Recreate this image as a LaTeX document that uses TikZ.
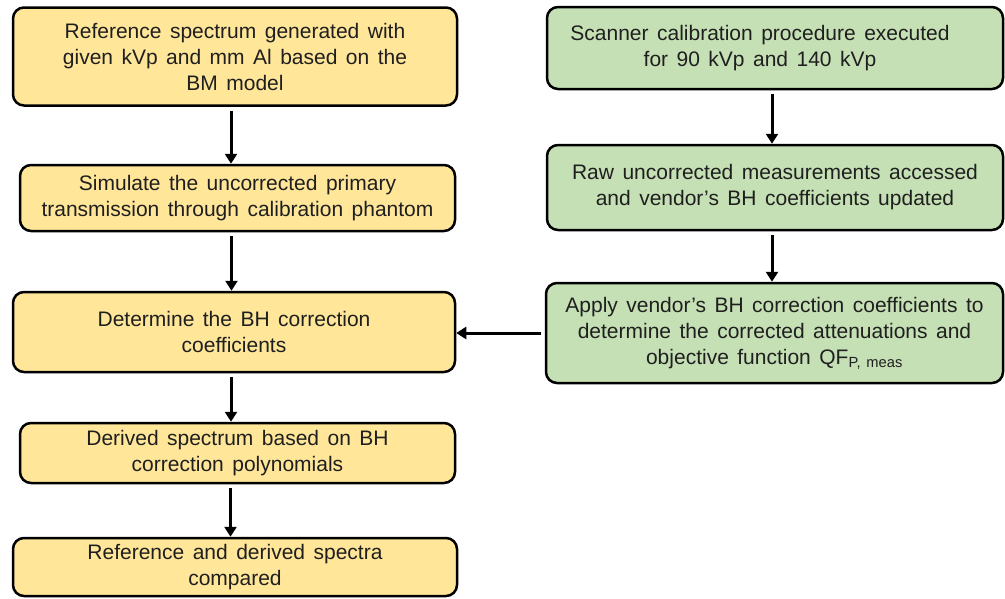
\documentclass[tikz,border=0pt]{standalone}
\usepackage{fontspec}
\setmainfont{Liberation Sans}[WordSpace=1.45]
\usepackage{tikz}
\usetikzlibrary{arrows.meta}

\definecolor{boxyellow}{HTML}{FFE699}
\definecolor{boxgreen}{HTML}{C5E0B4}

\begin{document}
\begin{tikzpicture}[x=1pt, y=-1pt,
    box/.style={draw=black, line width=2.5pt, rounded corners=11pt,
        align=center, inner sep=0pt, text=black!88,
        font=\fontsize{21}{26}\selectfont},
    yellowbox/.style={box, fill=boxyellow},
    greenbox/.style={box, fill=boxgreen},
    flow/.style={line width=3pt, shorten <=4pt,
        -{Triangle[width=12pt, length=10pt]}}]
    \useasboundingbox (0,0) rectangle (1005,598);

    % --- 1. 左欄：模擬流程 ---
    \node[yellowbox, minimum width=444pt, minimum height=98pt] (ref) at (235,56.5)
        {Reference spectrum generated with\\ given kVp and mm Al based on the\\ BM model};
    \node[yellowbox, minimum width=435pt, minimum height=66pt] (sim) at (237.5,198)
        {Simulate the uncorrected primary\\ transmission through calibration phantom};
    \node[yellowbox, minimum width=442pt, minimum height=80pt] (coef) at (234,332)
        {Determine the BH correction\\ coefficients};
    \node[yellowbox, minimum width=435pt, minimum height=60pt] (derived) at (237.5,453)
        {Derived spectrum based on BH\\ correction polynomials};
    \node[yellowbox, minimum width=444pt, minimum height=58pt] (compare) at (235,567)
        {Reference and derived spectra\\ compared};

    % --- 2. 右欄：掃描儀校正 ---
    \node[greenbox, minimum width=456pt, minimum height=82pt] (scan) at (775,48)
        {Scanner calibration procedure executed\hspace*{30pt}\\ for 90 kVp and 140 kVp\hspace*{30pt}};
    \node[greenbox, minimum width=456pt, minimum height=85pt] (raw) at (775,187.5)
        {Raw uncorrected measurements accessed\\ and vendor’s BH coefficients updated};
    \node[greenbox, minimum width=457pt, minimum height=100pt] (apply) at (774.5,333)
        {Apply vendor’s BH correction coefficients to\\ determine the corrected attenuations and\\ objective function QF\textsubscript{P, meas}};

    % --- 3. 箭頭 ---
    \draw[flow] ([xshift=-4pt]ref.south) -- ([xshift=-4pt]ref.south |- sim.north);
    \draw[flow] ([xshift=-6pt]sim.south) -- ([xshift=-6pt]sim.south |- coef.north);
    \draw[flow] ([xshift=-3pt]coef.south) -- ([xshift=-3pt]coef.south |- derived.north);
    \draw[flow] ([xshift=-7pt]derived.south) -- ([xshift=-7pt]derived.south |- compare.north);

    \draw[flow] ([xshift=-3pt]scan.south) -- ([xshift=-3pt]scan.south |- raw.north);
    \draw[flow] ([xshift=-3pt]raw.south) -- ([xshift=-3pt]raw.south |- apply.north);
    \draw[flow] (apply.west) -- (apply.west -| coef.east);
\end{tikzpicture}
\end{document}
